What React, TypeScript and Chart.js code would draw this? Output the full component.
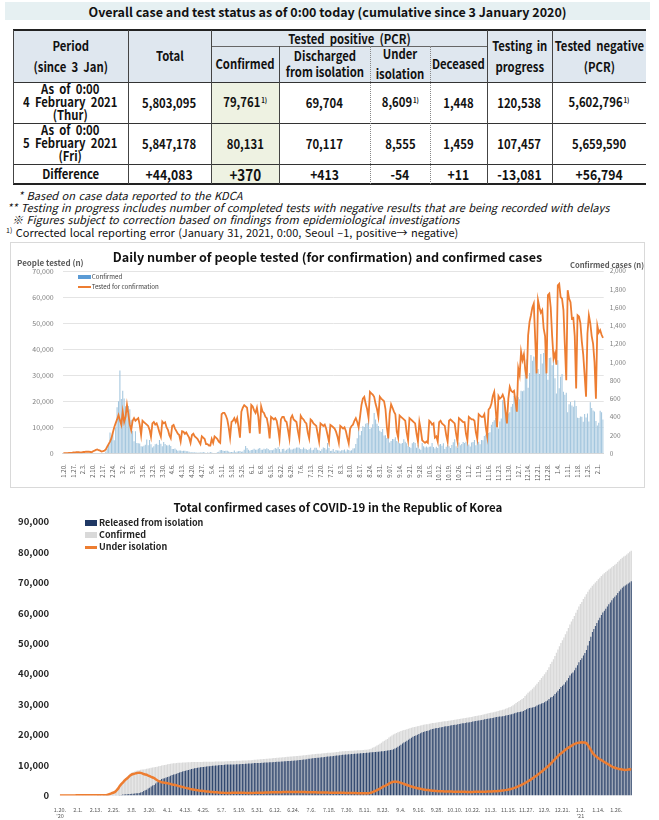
import React, { useEffect, useRef } from "react";
import { Chart, registerables } from "chart.js";

Chart.register(...registerables);

const FONT = '"Noto Sans CJK KR", "Noto Sans", sans-serif';

// ---------- DATA ----------
// Daily confirmed cases, 20 Jan 2020 ... 5 Feb 2021 (one value per day)
const CONFIRMED_DAILY = [
  // Jan 2020
  1,0,0,0,1,0,1,1,0,0,2,5,
  // Feb
  1,3,0,1,3,4,1,0,3,0, 1,0,0,0,0,1,1,1,20,53, 100,229,169,231,144,284,505,571,909,
  // Mar
  595,686,600,516,438,518,483,367,248,131, 242,114,110,107,76,74,84,93,152,87, 147,98,64,76,100,104,91,146,105,78,125,
  // Apr
  101,89,86,94,81,47,47,53,39,27, 30,32,25,27,27,22,22,18,8,13, 9,11,8,6,10,10,10,14,9,4,
  // May
  9,6,13,8,3,2,4,12,18,34, 35,27,26,29,27,19,13,15,13,32, 12,20,23,25,16,19,40,79,58,39,27,
  // Jun
  35,38,49,39,39,51,57,38,38,50, 45,56,48,34,37,34,43,59,49,67, 48,17,46,51,28,39,51,62,42,43,
  // Jul
  50,54,63,63,61,46,44,63,50,45, 35,44,62,33,39,61,60,39,34,26, 45,63,59,41,113,58,25,28,48,18,36,
  // Aug
  31,30,23,34,33,43,20,43,36,28, 34,54,56,103,166,279,197,246,297,288, 324,332,397,266,280,320,441,371,323,299,248,
  // Sep
  235,267,195,198,168,167,119,136,156,155, 176,136,121,109,106,113,153,126,110,82, 70,61,110,125,114,61,95,50,38,113,
  // Oct
  77,63,75,64,73,75,114,69,54,72, 58,97,102,84,110,47,73,91,76,58, 91,121,155,77,61,119,88,103,125,114,127,
  // Nov
  124,97,75,118,125,145,89,143,126,100, 146,143,191,205,208,223,230,313,343,363, 386,330,271,349,382,583,569,504,450,438,
  // Dec
  451,511,540,629,583,631,615,594,686,682, 689,950,1030,718,880,1078,1014,1062,1053,1097, 926,869,1090,985,1100,1132,970,808,1045,1050,967,
  // Jan 2021
  1029,824,657,1020,715,839,869,674,641,665, 451,537,562,524,512,580,520,389,386,404, 401,346,431,392,437,349,559,497,469,458,355,
  // Feb 2021
  305,336,467,451,370,
];

// People tested for confirmation per day, in thousands (weeks Mon..Sun)
const TESTED_THOUSANDS = [
  0.1,0.1,0.1,0.1,0.2,0.2,0.2,
  0.3,0.3,0.4,0.4,0.4,0.3,0.3,
  0.5,0.5,0.6,0.6,0.6,0.5,0.4,
  0.8,1.0,1.3,1.5,1.2,1.0,0.7,
  0.8,1.0,1.5,2.5,3.5,4.5,5.8,
  8.0,10.0,11.6,13.0,14.7,12.8,11.0,
  16.0,12.0,14.0,18.6,15.0,11.0,8.9,
  12.5,13.5,12.5,13.0,13.5,11.0,7.0,
  12.5,12.0,11.5,11.0,10.5,9.0,6.3,
  11.5,12.0,11.0,11.5,10.0,8.0,6.4,
  12.2,11.5,11.9,10.0,9.0,7.0,5.8,
  10.5,10.9,9.5,8.5,7.5,7.0,4.5,
  8.5,8.3,7.5,8.0,7.0,6.0,4.0,
  7.0,7.5,6.5,6.0,5.5,4.5,3.5,
  6.5,6.0,5.5,3.5,3.5,3.0,3.0,
  5.5,4.0,6.5,6.0,5.5,4.5,4.0,
  15.0,15.5,15.5,14.5,13.0,10.0,6.0,
  12.0,12.5,13.5,12.0,13.5,10.0,6.0,
  16.0,17.5,18.5,18.0,17.5,13.0,7.7,
  18.6,18.0,16.5,15.5,17.5,14.0,7.5,
  18.0,16.0,15.5,14.0,13.5,10.5,5.7,
  14.0,13.5,13.0,13.5,12.5,9.5,5.5,
  13.0,14.0,14.0,12.5,12.0,9.0,5.7,
  13.5,14.5,13.0,12.5,12.0,8.5,5.7,
  14.4,13.5,13.0,12.0,11.5,8.0,5.7,
  13.0,12.5,11.5,11.0,10.5,7.5,4.5,
  11.5,11.0,10.5,11.0,9.5,7.0,4.5,
  10.9,10.5,10.0,9.5,8.3,6.5,4.0,
  10.5,10.0,9.5,10.0,8.5,6.0,3.8,
  9.5,10.5,11.0,12.5,13.5,12.0,10.0,
  14.0,18.5,21.0,21.7,19.0,17.0,13.7,
  23.6,23.0,22.5,21.7,19.0,17.0,14.0,
  21.7,21.0,20.5,20.0,17.0,10.0,5.7,
  15.3,18.8,17.5,16.0,15.0,8.3,6.0,
  14.5,14.0,13.5,13.0,12.5,8.0,5.0,
  13.5,13.0,12.5,12.0,11.5,7.5,4.5,
  12.0,9.0,5.0,4.5,4.0,4.5,4.0,
  12.5,12.0,11.0,11.5,6.0,6.5,4.5,
  12.0,12.5,11.5,11.0,10.5,7.0,4.5,
  12.5,13.0,12.5,12.0,11.5,7.5,4.5,
  13.5,13.0,12.5,12.0,12.0,7.5,5.0,
  14.0,13.5,13.0,13.0,12.5,8.0,5.5,
  15.0,14.5,14.0,14.0,15.0,10.0,6.5,
  16.8,17.5,19.0,22.0,23.6,17.0,10.0,
  22.0,21.0,21.5,22.5,21.0,16.0,11.5,
  21.0,25.5,24.0,23.5,24.0,20.0,16.0,
  32.6,30.0,39.0,35.8,38.0,32.0,28.7,
  45.3,50.5,53.0,56.0,57.5,44.0,30.7,
  58.8,56.0,54.0,55.0,48.0,45.0,30.7,
  60.7,61.3,56.0,45.0,36.4,38.3,34.0,
  64.5,65.1,60.0,59.4,55.0,41.5,28.1,
  62.6,59.4,58.0,51.7,52.0,45.0,24.9,
  53.0,52.5,50.0,43.0,38.0,30.0,21.7,
  46.0,53.0,50.0,45.0,42.0,35.0,21.0,
  49.0,46.4,47.3,45.5,44.3,
];

// Persons under isolation, per day
const UNDER_ISOLATION = [
  1,1,1,1,2,2,3,4,4,4,6,11,
  12,15,15,16,19,22,23,22,24,24,21,21,21,19,19,19,20,19,39,87,186,413,579,798,943,1228,1731,2302,3106,
  3678,4156,4754,5255,5643,6119,6564,6876,7052,7170,7313,7407,7470,7410,7250,7024,6838,6789,6527,6325,6085,5884,5684,5281,4966,4665,4523,4275,4216,4155,4057,
  3968,3867,3735,3591,3500,3400,3300,3125,3000,2873,2750,2627,2480,2385,2280,2150,2050,1950,1850,1750,1680,1600,1550,1480,1420,1360,1300,1250,1200,1150,
  1100,1060,1030,1000,950,900,870,850,830,800,790,800,820,850,870,890,900,890,880,870,860,850,830,810,800,790,780,800,830,850,870,
  880,890,900,910,920,940,960,980,1000,1010,1020,1030,1040,1050,1060,1070,1080,1090,1100,1110,1120,1130,1140,1140,1150,1150,1140,1130,1120,1110,
  1100,1090,1070,1050,1040,1030,1020,1010,1000,990,980,970,960,950,940,930,920,910,900,890,880,870,860,880,900,880,860,840,820,800,800,
  790,780,770,760,750,740,730,720,710,700,690,700,720,770,880,1100,1270,1480,1730,1980,2250,2520,2860,3060,3270,3510,3880,4150,4350,4480,4520,
  4480,4400,4280,4130,3960,3780,3600,3420,3240,3070,2910,2760,2620,2490,2370,2260,2160,2060,1970,1890,1810,1740,1670,1610,1560,1510,1470,1430,1400,1370,
  1350,1330,1310,1290,1280,1270,1260,1250,1240,1230,1220,1210,1200,1190,1180,1170,1160,1150,1140,1140,1140,1150,1160,1170,1180,1190,1200,1210,1220,1230,1240,
  1250,1260,1280,1300,1330,1360,1390,1430,1470,1520,1580,1650,1730,1820,1920,2030,2160,2310,2480,2670,2880,3100,3330,3570,3820,4080,4350,4640,4950,5270,
  5600,5950,6300,6650,7000,7400,7800,8200,8600,9000,9400,9900,10400,10900,11400,11900,12400,12900,13400,13800,14200,14600,15000,15400,15700,16000,16300,16600,16900,17100,17250,
  17350,17400,17450,17420,17380,17200,16600,15800,15000,14100,13500,13000,12600,12200,11900,11600,11300,11000,10700,10400,10100,9800,9500,9250,9100,8950,8800,8700,8600,8500,8400,
  8350,8400,8500,8609,8555,
];

// Cumulative deaths, one value per week (Mon..Sun)
const DECEASED_WEEKLY = [
  0,0,0,0,2,17,50,72,104,144,183,214,234,242,250,256,262,266,270,273,277,280,282,285,289,295,298,
  301,304,306,312,321,336,358,379,401,416,431,446,460,474,485,496,505,523,556,587,660,808,981,1125,1236,1328,1420,1459,
];

const CHART1_TICKS = [
  "1.20.","1.27.","2.3.","2.10.","2.17.","2.24.","3.2.","3.9.","3.16.","3.23.","3.30.","4.6.","4.13.","4.20.","4.27.",
  "5.4.","5.11.","5.18.","5.25.","6.1.","6.8.","6.15.","6.22.","6.29.","7.6.","7.13.","7.20.","7.27.","8.3.","8.10.",
  "8.17.","8.24.","8.31.","9.07.","9.14.","9.21.","9.28.","10.5.","10.12.","10.19.","10.26.","11.2.","11.9.","11.16.",
  "11.23.","11.30.","12.7.","12.14.","12.21.","12.28.","1.4.","1.11.","1.18.","1.25.","2.1.",
];

const CHART2_TICKS: (string | string[])[] = [
  ["1.20.", "'20"],"2.1.","2.13.","2.25.","3.8.","3.20.","4.1.","4.13.","4.25.","5.7.","5.19.","5.31.","6.12.","6.24.",
  "7.6.","7.18.","7.30.","8.11.","8.23.","9.4.","9.16.","9.28.","10.10.","10.22.","11.3.","11.15.","11.27.","12.9.",
  "12.21.",["1.2.", "'21"],"1.14.","1.26.",
];

const ROW_A = ["5,803,095","79,761","69,704","8,609","1,448","120,538","5,602,796"];
const ROW_A_NOTE = [false,true,false,true,false,false,true];
const ROW_B = ["5,847,178","80,131","70,117","8,555","1,459","107,457","5,659,590"];
const ROW_DIFF = ["+44,083","+370","+413","-54","+11","-13,081","+56,794"];

// ---------- TABLE ----------
const COLS = [13,128,211,279,370,430,487,552,646];
const ROWS = [30,46,82,123,164,184];
const HEAD_BG = "#dfe7ef";
const GREEN_BG = "#eef2e2";

function Cell(p: { x0: number; x1: number; y0: number; y1: number; bg?: string; lh?: number; size?: number; children?: any }) {
  return (
    <div style={{
      position: "absolute", left: p.x0, top: p.y0, width: p.x1 - p.x0, height: p.y1 - p.y0,
      background: p.bg || "transparent", display: "flex", flexDirection: "column",
      alignItems: "center", justifyContent: "center", textAlign: "center",
      fontWeight: 700, fontSize: p.size || 13, lineHeight: (p.lh || 16) + "px", color: "#111",
      whiteSpace: "nowrap",
    }}>
      <div style={{ transform: "scaleX(0.87)", display: "flex", flexDirection: "column", alignItems: "center" }}>{p.children}</div>
    </div>
  );
}
function HL(p: { x0: number; x1: number; y: number; w?: number; c?: string; s?: string }) {
  const w = p.w || 1;
  return <div style={{ position: "absolute", left: p.x0, top: p.y - w / 2, width: p.x1 - p.x0, height: 0, borderTop: `${w}px ${p.s || "solid"} ${p.c || "#333"}` }} />;
}
function VL(p: { x: number; y0: number; y1: number; c?: string; s?: string }) {
  return <div style={{ position: "absolute", left: p.x - 0.5, top: p.y0, width: 0, height: p.y1 - p.y0, borderLeft: `1px ${p.s || "solid"} ${p.c || "#444"}` }} />;
}
const Sup = () => <span style={{ fontSize: 7, position: "relative", top: -4, marginLeft: 1 }}>1)</span>;

function StatusTable() {
  const C = COLS, R = ROWS;
  return (
    <>
      <Cell x0={C[0]} x1={C[1]} y0={R[0]} y1={R[2]} bg={HEAD_BG} lh={21}><div>Period</div><div style={{ wordSpacing: 3 }}>(since 3 Jan)</div></Cell>
      <Cell x0={C[1]} x1={C[2]} y0={R[0]} y1={R[2]} bg={HEAD_BG}>Total</Cell>
      <Cell x0={C[2]} x1={C[6]} y0={R[0]} y1={R[1]} bg={HEAD_BG} lh={15}><div style={{ wordSpacing: 3 }}>Tested positive (PCR)</div></Cell>
      <Cell x0={C[2]} x1={C[3]} y0={R[1]} y1={R[2]} bg={HEAD_BG}>Confirmed</Cell>
      <Cell x0={C[3]} x1={C[4]} y0={R[1]} y1={R[2]} bg={HEAD_BG} lh={16}><div>Discharged</div><div>from isolation</div></Cell>
      <Cell x0={C[4]} x1={C[5]} y0={R[1]} y1={R[2]} bg={HEAD_BG} lh={20}><div>Under</div><div>isolation</div></Cell>
      <Cell x0={C[5]} x1={C[6]} y0={R[1]} y1={R[2]} bg={HEAD_BG}>Deceased</Cell>
      <Cell x0={C[6]} x1={C[7]} y0={R[0]} y1={R[2]} bg={HEAD_BG} lh={21}><div style={{ wordSpacing: 2 }}>Testing in</div><div>progress</div></Cell>
      <Cell x0={C[7]} x1={C[8]} y0={R[0]} y1={R[2]} bg={HEAD_BG} lh={21}><div style={{ wordSpacing: 3 }}>Tested negative</div><div>(PCR)</div></Cell>
      <Cell x0={C[0]} x1={C[1]} y0={R[2]} y1={R[3]} lh={12.8}><div style={{ wordSpacing: 3 }}>As of 0:00</div><div style={{ wordSpacing: 3 }}>4 February 2021</div><div>(Thur)</div></Cell>
      {ROW_A.map((v, i) => (
        <Cell key={"a" + i} x0={C[i + 1]} x1={C[i + 2]} y0={R[2]} y1={R[3]} bg={i === 1 ? GREEN_BG : undefined}>
          <div>{v}{ROW_A_NOTE[i] ? <Sup /> : null}</div>
        </Cell>
      ))}
      <Cell x0={C[0]} x1={C[1]} y0={R[3]} y1={R[4]} lh={12.8}><div style={{ wordSpacing: 3 }}>As of 0:00</div><div style={{ wordSpacing: 3 }}>5 February 2021</div><div>(Fri)</div></Cell>
      {ROW_B.map((v, i) => (
        <Cell key={"b" + i} x0={C[i + 1]} x1={C[i + 2]} y0={R[3]} y1={R[4]} bg={i === 1 ? GREEN_BG : undefined}>{v}</Cell>
      ))}
      <Cell x0={C[0]} x1={C[1]} y0={R[4]} y1={R[5]}>Difference</Cell>
      {ROW_DIFF.map((v, i) => (
        <Cell key={"d" + i} x0={C[i + 1]} x1={C[i + 2]} y0={R[4]} y1={R[5]} bg={i === 1 ? GREEN_BG : undefined} size={i === 1 ? 15.5 : 14}>{v}</Cell>
      ))}
      <HL x0={C[0]} x1={C[8]} y={R[0]} w={2} c="#222" />
      <HL x0={C[2]} x1={C[6]} y={R[1]} c="#666" />
      <HL x0={C[0]} x1={C[8]} y={R[2]} c="#333" />
      <HL x0={C[0]} x1={C[8]} y={R[3]} c="#333" />
      <HL x0={C[0]} x1={C[8]} y={R[4]} c="#333" />
      <HL x0={C[0]} x1={C[8]} y={R[5]} w={2} c="#222" />
      <VL x={C[0]} y0={R[0]} y1={R[5]} />
      <VL x={C[1]} y0={R[0]} y1={R[5]} />
      <VL x={C[2]} y0={R[0]} y1={R[5]} />
      <VL x={C[3]} y0={R[1]} y1={R[5]} />
      <VL x={C[4]} y0={R[1]} y1={R[5]} s="dotted" c="#888" />
      <VL x={C[5]} y0={R[1]} y1={R[5]} s="dotted" c="#888" />
      <VL x={C[6]} y0={R[0]} y1={R[5]} />
      <VL x={C[7]} y0={R[0]} y1={R[5]} />
    </>
  );
}

// ---------- CHART 1 ----------
function DailyChart() {
  const ref = useRef<HTMLCanvasElement>(null);
  useEffect(() => {
    const labels = CONFIRMED_DAILY.map((_, i) => String(i));
    const chart = new Chart(ref.current!, {
      type: "bar",
      data: {
        labels,
        datasets: [
          {
            type: "line", label: "Tested for confirmation", data: TESTED_THOUSANDS.map((v) => v * 1000),
            yAxisID: "y", borderColor: "#ed7d31", borderWidth: 1.8, pointRadius: 0, tension: 0, order: 0,
          } as any,
          {
            type: "bar", label: "Confirmed", data: CONFIRMED_DAILY, yAxisID: "y1",
            backgroundColor: "#a3c6de", barPercentage: 0.75, categoryPercentage: 1, order: 1,
          } as any,
        ],
      },
      options: {
        responsive: false,
        animation: false,
        layout: { padding: { top: 28, left: 0, right: 0, bottom: 0 } },
        plugins: { legend: { display: false }, tooltip: { enabled: false }, title: { display: false } },
        scales: {
          x: {
            grid: { display: false },
            border: { display: true, color: "#d9d9d9" },
            ticks: {
              autoSkip: false, minRotation: 90, maxRotation: 90, padding: 3,
              font: { size: 6, family: FONT }, color: "#595959",
              callback: (_v: any, i: number) => (i % 7 === 0 ? CHART1_TICKS[i / 7] : null),
            },
            afterFit: (s: any) => { s.height = 33.7; },
          },
          y: {
            position: "left", min: 0, max: 70000,
            grid: { color: "#e4e4e4", drawTicks: false },
            border: { display: false },
            ticks: {
              stepSize: 10000, padding: 9, font: { size: 7, family: FONT }, color: "#7f7f7f",
              callback: (v: any) => Number(v).toLocaleString("en-US"),
            },
            afterFit: (s: any) => { s.width = 51.7; },
          },
          y1: {
            position: "right", min: 0, max: 2000,
            grid: { display: false, drawTicks: false },
            border: { display: false },
            ticks: {
              stepSize: 200, padding: 6, font: { size: 6.5, family: FONT }, color: "#7f7f7f",
              callback: (v: any) => Number(v).toLocaleString("en-US"),
            },
            afterFit: (s: any) => { s.width = 40.3; },
          },
        },
      } as any,
    });
    return () => chart.destroy();
  }, []);
  return (
    <div style={{ position: "absolute", left: 10, top: 242, width: 633, height: 244, border: "1px solid #d9d9d9" }}>
      <canvas ref={ref} width={633} height={244} style={{ position: "absolute", left: 0, top: 0 }} />
      <div style={{ position: "absolute", left: 0, width: 633, top: 5, textAlign: "center", fontWeight: 700, fontSize: 12.6, color: "#111", lineHeight: "17px", whiteSpace: "nowrap" }}>
        Daily number of people tested (for confirmation) and confirmed cases
      </div>
      <div style={{ position: "absolute", left: 6, top: 14, fontSize: 8, fontWeight: 700, color: "#595959", lineHeight: "11px", whiteSpace: "nowrap" }}>People tested (n)</div>
      <div style={{ position: "absolute", left: 559, top: 15.5, fontSize: 7.6, fontWeight: 700, color: "#595959", lineHeight: "11px", whiteSpace: "nowrap" }}>Confirmed cases (n)</div>
      <div style={{ position: "absolute", left: 66.7, top: 32, width: 13, height: 3.5, background: "#5b9bd5" }} />
      <div style={{ position: "absolute", left: 80.7, top: 29.5, fontSize: 6.2, color: "#404040", lineHeight: "8px", whiteSpace: "nowrap" }}>Confirmed</div>
      <div style={{ position: "absolute", left: 66.7, top: 43.3, width: 13, height: 2, background: "#ed7d31" }} />
      <div style={{ position: "absolute", left: 80.7, top: 40.3, fontSize: 6.2, color: "#404040", lineHeight: "8px", whiteSpace: "nowrap" }}>Tested for confirmation</div>
    </div>
  );
}

// ---------- CHART 2 ----------
function CumulativeChart() {
  const ref = useRef<HTMLCanvasElement>(null);
  useEffect(() => {
    const labels = CONFIRMED_DAILY.map((_, i) => String(i));
    let run = 0;
    const cumulative = CONFIRMED_DAILY.map((v) => (run += v));
    const released = cumulative.map((c, i) => Math.max(0, c - UNDER_ISOLATION[i] - DECEASED_WEEKLY[Math.floor(i / 7)]));
    const chart = new Chart(ref.current!, {
      type: "bar",
      data: {
        labels,
        datasets: [
          {
            type: "bar", label: "Released from isolation", data: released, backgroundColor: "#1f3864",
            grouped: false, barPercentage: 0.6, categoryPercentage: 1, order: 1,
          } as any,
          {
            type: "bar", label: "Confirmed", data: cumulative, backgroundColor: "#d9d9d9",
            grouped: false, barPercentage: 0.9, categoryPercentage: 1, order: 2,
          } as any,
          {
            type: "line", label: "Under isolation", data: UNDER_ISOLATION, borderColor: "#ed7d31",
            borderWidth: 2.5, pointRadius: 0, tension: 0, order: 0,
          } as any,
        ],
      },
      options: {
        responsive: false,
        animation: false,
        layout: { padding: { top: 24.7, left: 0, right: 27, bottom: 0 } },
        plugins: { legend: { display: false }, tooltip: { enabled: false }, title: { display: false } },
        scales: {
          x: {
            grid: { display: false },
            border: { display: false },
            ticks: {
              autoSkip: false, minRotation: 0, maxRotation: 0, padding: 3,
              font: { size: 5.5, family: FONT }, color: "#595959",
              callback: (_v: any, i: number) => (i % 12 === 0 ? CHART2_TICKS[i / 12] : null),
            },
            afterFit: (s: any) => { s.height = 24.6; },
          },
          y: {
            min: 0, max: 90000,
            grid: { display: false, drawTicks: false },
            border: { display: false },
            ticks: {
              stepSize: 10000, padding: 10, font: { size: 9.5, weight: "bold", family: FONT }, color: "#262626",
              callback: (v: any) => Number(v).toLocaleString("en-US"),
            },
            afterFit: (s: any) => { s.width = 59.2; },
          },
        },
      } as any,
    });
    return () => chart.destroy();
  }, []);
  return (
    <div style={{ position: "absolute", left: 0, top: 497, width: 659, height: 323 }}>
      <canvas ref={ref} width={659} height={323} style={{ position: "absolute", left: 0, top: 0 }} />
      <div style={{ position: "absolute", left: 0, width: 676, top: 2, textAlign: "center", fontWeight: 700, fontSize: 11.5, color: "#111", lineHeight: "16px", whiteSpace: "nowrap" }}>
        Total confirmed cases of COVID-19 in the Republic of Korea
      </div>
      <div style={{ position: "absolute", left: 85, top: 23, width: 12, height: 5.5, background: "#1f3864" }} />
      <div style={{ position: "absolute", left: 99, top: 19.5, fontSize: 9, fontWeight: 700, color: "#222", lineHeight: "12px", whiteSpace: "nowrap" }}>Released from isolation</div>
      <div style={{ position: "absolute", left: 85, top: 35.3, width: 12, height: 5.5, background: "#d9d9d9" }} />
      <div style={{ position: "absolute", left: 99, top: 31.8, fontSize: 9, fontWeight: 700, color: "#222", lineHeight: "12px", whiteSpace: "nowrap" }}>Confirmed</div>
      <div style={{ position: "absolute", left: 85, top: 49, width: 12, height: 2.5, background: "#ed7d31" }} />
      <div style={{ position: "absolute", left: 99, top: 44.3, fontSize: 9, fontWeight: 700, color: "#222", lineHeight: "12px", whiteSpace: "nowrap" }}>Under isolation</div>
    </div>
  );
}

export default function App() {
  return (
    <div style={{ position: "absolute", left: 0, top: 0, width: 659, height: 820, background: "#fff", overflow: "hidden", fontFamily: FONT, color: "#111" }}>
      <div style={{ position: "absolute", left: 5, top: 2, width: 645, height: 18, background: "#e6f0f2", display: "flex", alignItems: "center", justifyContent: "center", fontWeight: 700, fontSize: 12.5, whiteSpace: "nowrap" }}>
        Overall case and test status as of 0:00 today (cumulative since 3 January 2020)
      </div>
      <StatusTable />
      <div style={{ position: "absolute", left: 0, top: 189, width: 659, fontSize: 11, fontStyle: "italic", lineHeight: "12px", color: "#111", whiteSpace: "nowrap", wordSpacing: 1 }}>
        <div style={{ paddingLeft: 18 }}>* Based on case data reported to the KDCA</div>
        <div style={{ paddingLeft: 7 }}>** Testing in progress includes number of completed tests with negative results that are being recorded with delays</div>
        <div style={{ paddingLeft: 12 }}>※ Figures subject to correction based on findings from epidemiological investigations</div>
        <div style={{ paddingLeft: 6, fontStyle: "normal", marginTop: 1 }}><span style={{ fontSize: 7, position: "relative", top: -4 }}>1)</span> Corrected local reporting error (January 31, 2021, 0:00, Seoul –1, positive→ negative)</div>
      </div>
      <DailyChart />
      <CumulativeChart />
    </div>
  );
}
